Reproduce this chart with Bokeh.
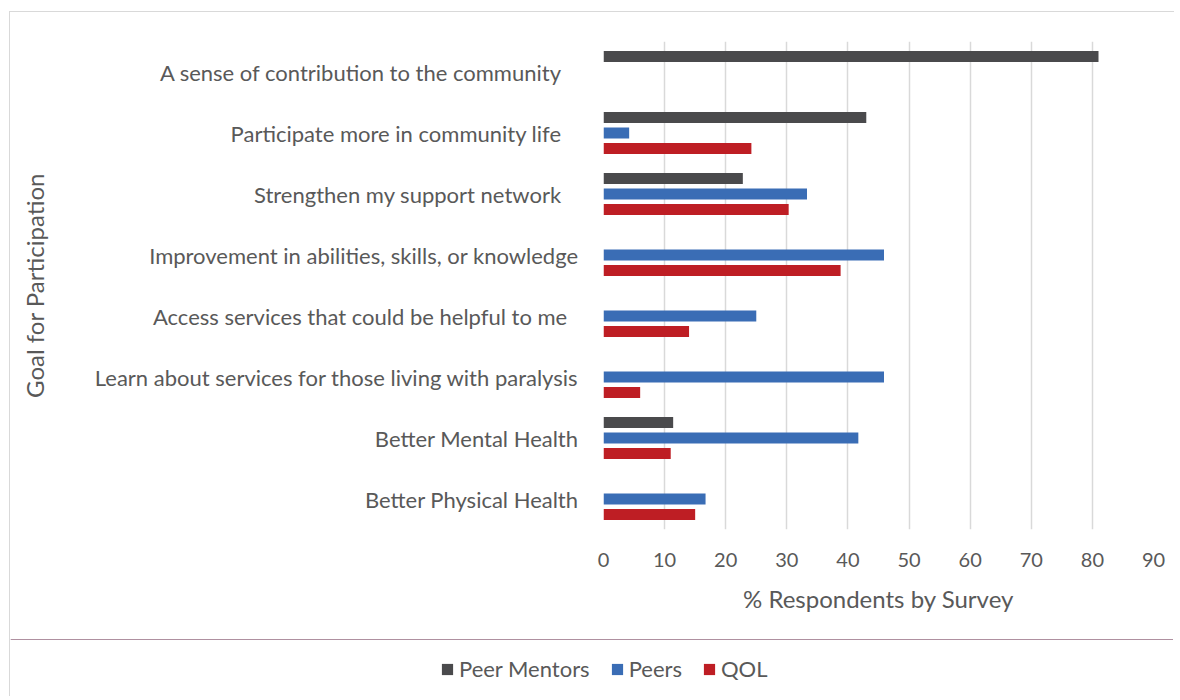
from bokeh.plotting import figure
from bokeh.models import FactorRange, Range1d, Legend, LegendItem, ColumnDataSource
from bokeh.transform import dodge
from bokeh.embed import file_html
from bokeh.resources import INLINE

NB = "\u00a0"
goals = [
    "A sense of contribution to the community" + NB * 3,
    "Participate more in community life" + NB * 3,
    "Strengthen my support network" + NB * 3,
    "Improvement in abilities, skills, or knowledge",
    "Access services that could be helpful to me" + NB * 2,
    "Learn about services for those living with paralysis",
    "Better Mental Health",
    "Better Physical Health",
]

peer_mentors = [81.0, 43.0, 22.8, 0, 0, 0, 11.4, 0]
peers = [0, 4.2, 33.3, 45.9, 25.0, 45.9, 41.7, 16.7]
qol = [0, 24.2, 30.3, 38.8, 14.0, 6.0, 11.0, 15.0]

series_names = ["Peer Mentors", "Peers", "QOL"]
series_values = [peer_mentors, peers, qol]
colors = ["#4a4a4c", "#3a6db5", "#be1e24"]
offsets = [0.254, 0.0, -0.254]

x_ticks = [0, 10, 20, 30, 40, 50, 60, 70, 80, 90]

FONT = "Lato"
GRAY = "#595959"

p = figure(
    y_range=FactorRange(factors=list(reversed(goals)), range_padding=0),
    x_range=Range1d(0, 90),
    frame_width=550, frame_height=488,
    min_border_left=593, min_border_right=21, min_border_top=29, min_border_bottom=110,
    output_backend="svg", toolbar_location=None,
)
p.outline_line_color = None
p.background_fill_color = "white"
p.border_fill_color = "white"
p.styles = {"border-top": "1px solid #d9d9d9", "border-left": "1px solid #d9d9d9",
            "margin-top": "11px", "margin-left": "9px"}

for name, vals, col, off in zip(series_names, series_values, colors, offsets):
    ys = [g for g, v in zip(goals, vals) if v > 0]
    xs = [v for v in vals if v > 0]
    src = ColumnDataSource(dict(y=ys, right=xs))
    p.hbar(y=dodge("y", off, range=p.y_range), left=0, right="right", height=0.18,
           source=src, fill_color=col, line_color=None)

# grid
p.ygrid.grid_line_color = None
p.xgrid.grid_line_color = "#d9d9d9"
p.xgrid.grid_line_width = 1.5
p.xaxis.ticker = x_ticks

# x axis
xa = p.xaxis[0]
xa.axis_line_color = None
xa.major_tick_line_color = None
xa.minor_tick_line_color = None
xa.major_tick_out = 0
xa.major_label_standoff = 23
xa.major_label_text_font = FONT
xa.major_label_text_font_size = "20px"
xa.major_label_text_color = GRAY
xa.axis_label = "% Respondents by Survey"
xa.axis_label_text_font = FONT
xa.axis_label_text_font_size = "24px"
xa.axis_label_text_font_style = "normal"
xa.axis_label_text_color = GRAY
xa.axis_label_standoff = 14

# y axis
ya = p.yaxis[0]
ya.axis_line_color = None
ya.major_tick_line_color = None
ya.minor_tick_line_color = None
ya.major_tick_out = 0
ya.major_label_standoff = 25
ya.major_label_text_font = FONT
ya.major_label_text_font_size = "22px"
ya.major_label_text_color = GRAY
ya.axis_label = "Goal for Participation"
ya.axis_label_text_font = FONT
ya.axis_label_text_font_size = "24px"
ya.axis_label_text_font_style = "normal"
ya.axis_label_text_color = GRAY
ya.axis_label_standoff = 43

# legend strip below the chart (separate root, so it is not frame-aligned)
lf = figure(width=1164, height=57, x_range=Range1d(0, 1), y_range=Range1d(0, 1),
            x_axis_type=None, y_axis_type=None,
            min_border=0, output_backend="svg", toolbar_location=None)
lf.outline_line_color = None
lf.outline_line_alpha = 0
lf.grid.visible = False
lf.border_fill_color = "white"
lf.background_fill_color = "white"
lf.styles = {"border-left": "1px solid #d9d9d9", "margin-left": "9px"}
items = []
for name, col in zip(series_names, colors):
    r = lf.hbar(y=[5], left=[0], right=[1], height=0.1, fill_color=col, line_color=None)
    items.append(LegendItem(label=name, renderers=[r]))
legend = Legend(items=items, orientation="horizontal", location=(430, 14),
                glyph_width=14, glyph_height=14, label_standoff=5, spacing=20,
                padding=0, margin=0, border_line_color=None, background_fill_alpha=0,
                label_text_font=FONT, label_text_font_size="22px", label_text_color=GRAY)
lf.add_layout(legend, "center")

open("out.html", "w").write(file_html([p, lf], INLINE))
